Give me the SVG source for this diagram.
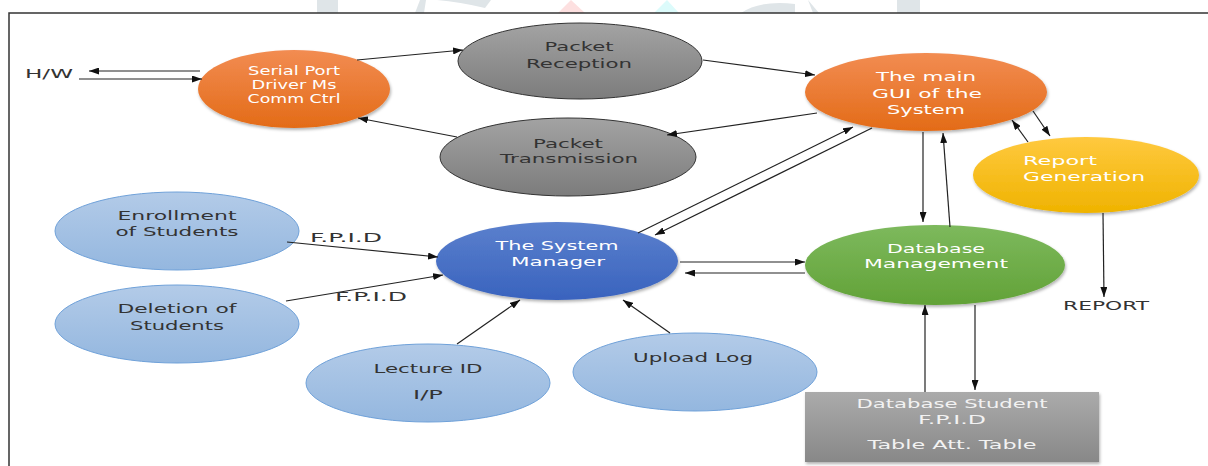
<svg xmlns="http://www.w3.org/2000/svg" width="1208" height="466" viewBox="0 0 1208 466">
<style>
.lbl{font-family:"DejaVu Sans","Liberation Sans",sans-serif;font-size:13px;fill:#333;text-anchor:middle}
.wt{fill:#fff}
.cn line{stroke:#222;stroke-width:1.2;fill:none;marker-end:url(#ah)}
.wm{fill:#dfe5e8}
</style>
<defs>
<marker id="ah" markerWidth="10" markerHeight="7" refX="10" refY="3.5" orient="auto" markerUnits="userSpaceOnUse"><path d="M0,0 L10,3.5 L0,7 z" fill="#111"/></marker>
<linearGradient id="gOr" x1="0" y1="0" x2="0" y2="1"><stop offset="0" stop-color="#f28c52"/><stop offset="1" stop-color="#e36b17"/></linearGradient>
<linearGradient id="gGr" x1="0" y1="0" x2="0" y2="1"><stop offset="0" stop-color="#a3a3a3"/><stop offset="1" stop-color="#7c7c7c"/></linearGradient>
<linearGradient id="gYe" x1="0" y1="0" x2="0" y2="1"><stop offset="0" stop-color="#ffc93f"/><stop offset="1" stop-color="#efb300"/></linearGradient>
<linearGradient id="gGn" x1="0" y1="0" x2="0" y2="1"><stop offset="0" stop-color="#7db95d"/><stop offset="1" stop-color="#62a237"/></linearGradient>
<linearGradient id="gBl" x1="0" y1="0" x2="0" y2="1"><stop offset="0" stop-color="#5b80cd"/><stop offset="1" stop-color="#3963be"/></linearGradient>
<linearGradient id="gLb" x1="0" y1="0" x2="0" y2="1"><stop offset="0" stop-color="#b3cbe8"/><stop offset="1" stop-color="#94b7df"/></linearGradient>
<linearGradient id="gTb" x1="0" y1="0" x2="0" y2="1"><stop offset="0" stop-color="#ababab"/><stop offset="1" stop-color="#888"/></linearGradient>
<filter id="sh" x="-10%" y="-10%" width="125%" height="135%"><feDropShadow dx="1" dy="2" stdDeviation="1.5" flood-color="#000" flood-opacity="0.3"/></filter>
</defs>
<rect width="1208" height="466" fill="#fff"/>
<g id="watermark">
<rect class="wm" x="317" y="0" width="21" height="13"/>
<path class="wm" d="M415,13 L420,0 L426,0 L424,13 z"/>
<path class="wm" d="M437,0 H491 L485,8 Q460,2 437,0 z"/>
<path d="M558,13 L571,0 L585,13 z" fill="#fde0e0"/>
<path d="M654,13 L667,0 L679,13 z" fill="#dcfbfb"/>
<path class="wm" d="M741,13 Q760,0 795,4 V13 z"/>
<path class="wm" d="M808,0 L819,13 H813 z"/>
<rect class="wm" x="897" y="0" width="23" height="13"/>
</g>
<path d="M9,466 V13 H1208" fill="none" stroke="#333" stroke-width="1.5"/>
<text id="hw" class="lbl" x="49" y="78" textLength="48" lengthAdjust="spacingAndGlyphs">H/W</text>
<g id="serial">
<ellipse cx="294" cy="89" rx="96" ry="39" fill="url(#gOr)" filter="url(#sh)"/>
<text class="lbl wt" style="font-size:12px" x="294" y="75" textLength="92" lengthAdjust="spacingAndGlyphs">Serial Port</text>
<text class="lbl wt" style="font-size:12px" x="294" y="89" textLength="85" lengthAdjust="spacingAndGlyphs">Driver Ms</text>
<text class="lbl wt" style="font-size:12px" x="294" y="103" textLength="93" lengthAdjust="spacingAndGlyphs">Comm Ctrl</text>
</g>
<g id="packetReception">
<ellipse cx="580" cy="61" rx="122" ry="38" fill="url(#gGr)" stroke="#333" stroke-width="1"/>
<text class="lbl" x="579" y="51" textLength="69" lengthAdjust="spacingAndGlyphs">Packet</text>
<text class="lbl" x="579" y="68" textLength="106" lengthAdjust="spacingAndGlyphs">Reception</text>
</g>
<g id="packetTransmission">
<ellipse cx="568" cy="157" rx="128" ry="39" fill="url(#gGr)" stroke="#333" stroke-width="1"/>
<text class="lbl" x="568" y="148" textLength="70" lengthAdjust="spacingAndGlyphs">Packet</text>
<text class="lbl" x="569" y="163" textLength="138" lengthAdjust="spacingAndGlyphs">Transmission</text>
</g>
<g id="mainGui">
<ellipse cx="926" cy="92" rx="121" ry="39" fill="url(#gOr)" filter="url(#sh)"/>
<text class="lbl wt" x="926" y="81" textLength="100" lengthAdjust="spacingAndGlyphs">The main</text>
<text class="lbl wt" x="927" y="98" textLength="110" lengthAdjust="spacingAndGlyphs">GUI of the</text>
<text class="lbl wt" x="926" y="114" textLength="78" lengthAdjust="spacingAndGlyphs">System</text>
</g>
<g id="reportGeneration">
<ellipse cx="1086" cy="175" rx="113" ry="38" fill="url(#gYe)" filter="url(#sh)"/>
<text class="lbl wt" style="text-anchor:start" x="1023" y="165" textLength="74" lengthAdjust="spacingAndGlyphs">Report</text>
<text class="lbl wt" style="text-anchor:start" x="1023" y="181" textLength="122" lengthAdjust="spacingAndGlyphs">Generation</text>
</g>
<g id="databaseManagement">
<ellipse cx="935" cy="265" rx="130" ry="40" fill="url(#gGn)" filter="url(#sh)"/>
<text class="lbl wt" x="936" y="253" textLength="98" lengthAdjust="spacingAndGlyphs">Database</text>
<text class="lbl wt" x="936" y="268" textLength="144" lengthAdjust="spacingAndGlyphs">Management</text>
</g>
<text id="report" class="lbl" x="1106" y="310" textLength="86" lengthAdjust="spacingAndGlyphs">REPORT</text>
<g id="systemManager">
<ellipse cx="557" cy="261" rx="121" ry="39" fill="url(#gBl)" filter="url(#sh)"/>
<text class="lbl wt" x="557" y="250" textLength="123" lengthAdjust="spacingAndGlyphs">The System</text>
<text class="lbl wt" x="558" y="266" textLength="94" lengthAdjust="spacingAndGlyphs">Manager</text>
</g>
<g id="enrollment">
<ellipse cx="177" cy="231" rx="122" ry="39" fill="url(#gLb)" stroke="#6fa1d9" stroke-width="1"/>
<text class="lbl" x="177" y="220" textLength="119" lengthAdjust="spacingAndGlyphs">Enrollment</text>
<text class="lbl" x="177" y="236" textLength="123" lengthAdjust="spacingAndGlyphs">of Students</text>
</g>
<g id="deletion">
<ellipse cx="177" cy="324" rx="122" ry="39" fill="url(#gLb)" stroke="#6fa1d9" stroke-width="1"/>
<text class="lbl" x="177" y="313" textLength="119" lengthAdjust="spacingAndGlyphs">Deletion of</text>
<text class="lbl" x="177" y="330" textLength="94" lengthAdjust="spacingAndGlyphs">Students</text>
</g>
<g id="lectureId">
<ellipse cx="428" cy="383" rx="122" ry="39" fill="url(#gLb)" stroke="#6fa1d9" stroke-width="1"/>
<text class="lbl" x="428" y="373" textLength="109" lengthAdjust="spacingAndGlyphs">Lecture ID</text>
<text class="lbl" x="428" y="399" textLength="30" lengthAdjust="spacingAndGlyphs">I/P</text>
</g>
<g id="uploadLog">
<ellipse cx="695" cy="372" rx="122" ry="39" fill="url(#gLb)" stroke="#6fa1d9" stroke-width="1"/>
<text class="lbl" x="693" y="362" textLength="120" lengthAdjust="spacingAndGlyphs">Upload Log</text>
</g>
<g id="dbTable">
<rect x="805" y="392" width="294" height="70" fill="url(#gTb)" filter="url(#sh)"/>
<text class="lbl" style="fill:#f2f2f2" x="952" y="408" textLength="191" lengthAdjust="spacingAndGlyphs">Database Student</text>
<text class="lbl" style="fill:#f2f2f2" x="952" y="424" textLength="68" lengthAdjust="spacingAndGlyphs">F.P.I.D</text>
<text class="lbl" style="fill:#f2f2f2" x="952" y="449" textLength="169" lengthAdjust="spacingAndGlyphs">Table Att. Table</text>
</g>
<g id="connectors" class="cn">
<line x1="200" y1="71" x2="89" y2="71"/>
<line x1="79" y1="79" x2="202" y2="79"/>
<line x1="357" y1="60" x2="463" y2="50"/>
<line x1="703" y1="60" x2="815" y2="75"/>
<line x1="817" y1="113" x2="667" y2="135"/>
<line x1="457" y1="137" x2="358" y2="118"/>
<line x1="638" y1="233" x2="853" y2="127"/>
<line x1="872" y1="128" x2="655" y2="235"/>
<line x1="923" y1="132" x2="923" y2="222"/>
<line x1="950" y1="227" x2="943" y2="133"/>
<line x1="1028" y1="142" x2="1012" y2="120"/>
<line x1="1033" y1="111" x2="1050" y2="136"/>
<line x1="1103" y1="213" x2="1104" y2="297"/>
<line x1="680" y1="262" x2="805" y2="262"/>
<line x1="805" y1="273" x2="685" y2="273"/>
<line x1="925" y1="392" x2="925" y2="305"/>
<line x1="975" y1="305" x2="975" y2="390"/>
<line x1="287" y1="242" x2="438" y2="257"/>
<line x1="286" y1="301" x2="443" y2="275"/>
<line x1="457" y1="344" x2="520" y2="300"/>
<line x1="670" y1="333" x2="623" y2="300"/>
</g>
<text class="lbl" x="346" y="242" textLength="72" lengthAdjust="spacingAndGlyphs">F.P.I.D</text>
<text class="lbl" x="371" y="301" textLength="72" lengthAdjust="spacingAndGlyphs">F.P.I.D</text>
</svg>
